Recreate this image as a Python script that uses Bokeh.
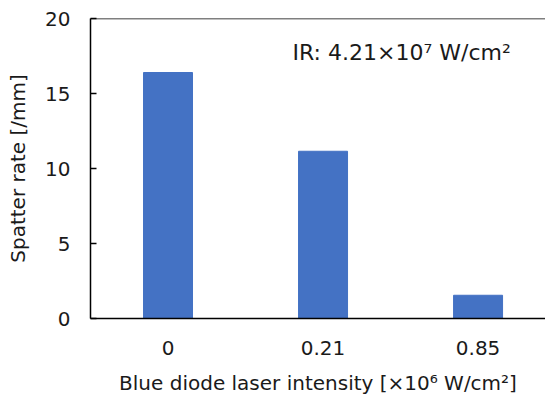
from bokeh.plotting import figure
from bokeh.models import Range1d, FixedTicker, Span, Label
from bokeh.embed import file_html
from bokeh.resources import INLINE

categories = ["0", "0.21", "0.85"]
spatter_rate = [16.4, 11.15, 1.55]
y_ticks = [0, 5, 10, 15, 20]

FONT = "DejaVu Sans"
TXT = "#1a1a1a"
xs = list(range(len(categories)))

p = figure(width=545, height=398, output_backend="svg", toolbar_location=None,
           x_range=Range1d(-0.5, 2.435), y_range=Range1d(0, 20),
           min_border_left=90, min_border_top=18, min_border_bottom=80, min_border_right=0)
p.outline_line_color = None
p.grid.visible = False
p.background_fill_color = "white"
p.border_fill_color = "white"

p.vbar(x=xs, top=spatter_rate, width=0.316, fill_color="#4472C4", line_color="#4472C4")

p.xaxis.ticker = FixedTicker(ticks=xs)
p.xaxis.major_label_overrides = {i: c for i, c in enumerate(categories)}
p.yaxis.ticker = FixedTicker(ticks=y_ticks)

for ax in (p.xaxis, p.yaxis):
    ax.axis_line_color = "black"
    ax.axis_line_width = 1.5
    ax.major_label_text_font = FONT
    ax.major_label_text_font_size = "20px"
    ax.major_label_text_color = TXT
    ax.axis_label_text_font = FONT
    ax.axis_label_text_font_size = "20px"
    ax.axis_label_text_font_style = "normal"
    ax.axis_label_text_color = TXT
    ax.minor_tick_line_color = None

p.xaxis.major_tick_line_color = None
p.xaxis.major_label_standoff = 16
p.xaxis.axis_label = "Blue diode laser intensity [×10⁶ W/cm²]"
p.xaxis.axis_label_standoff = 13

p.yaxis.major_tick_in = 6
p.yaxis.major_tick_out = 0
p.yaxis.major_tick_line_color = "black"
p.yaxis.major_tick_line_width = 1.5
p.yaxis.major_label_standoff = 20
p.yaxis.axis_label = "Spatter rate [/mm]"
p.yaxis.axis_label_standoff = 12

p.add_layout(Span(location=20, dimension="width", line_color="black", line_width=1.5))

p.add_layout(Label(x=0.803, y=17.75, text="IR: 4.21×10⁷ W/cm²", text_font=FONT,
                   text_font_size="22px", text_color=TXT, text_baseline="middle"))

open("out.html", "w").write(file_html(p, INLINE))
